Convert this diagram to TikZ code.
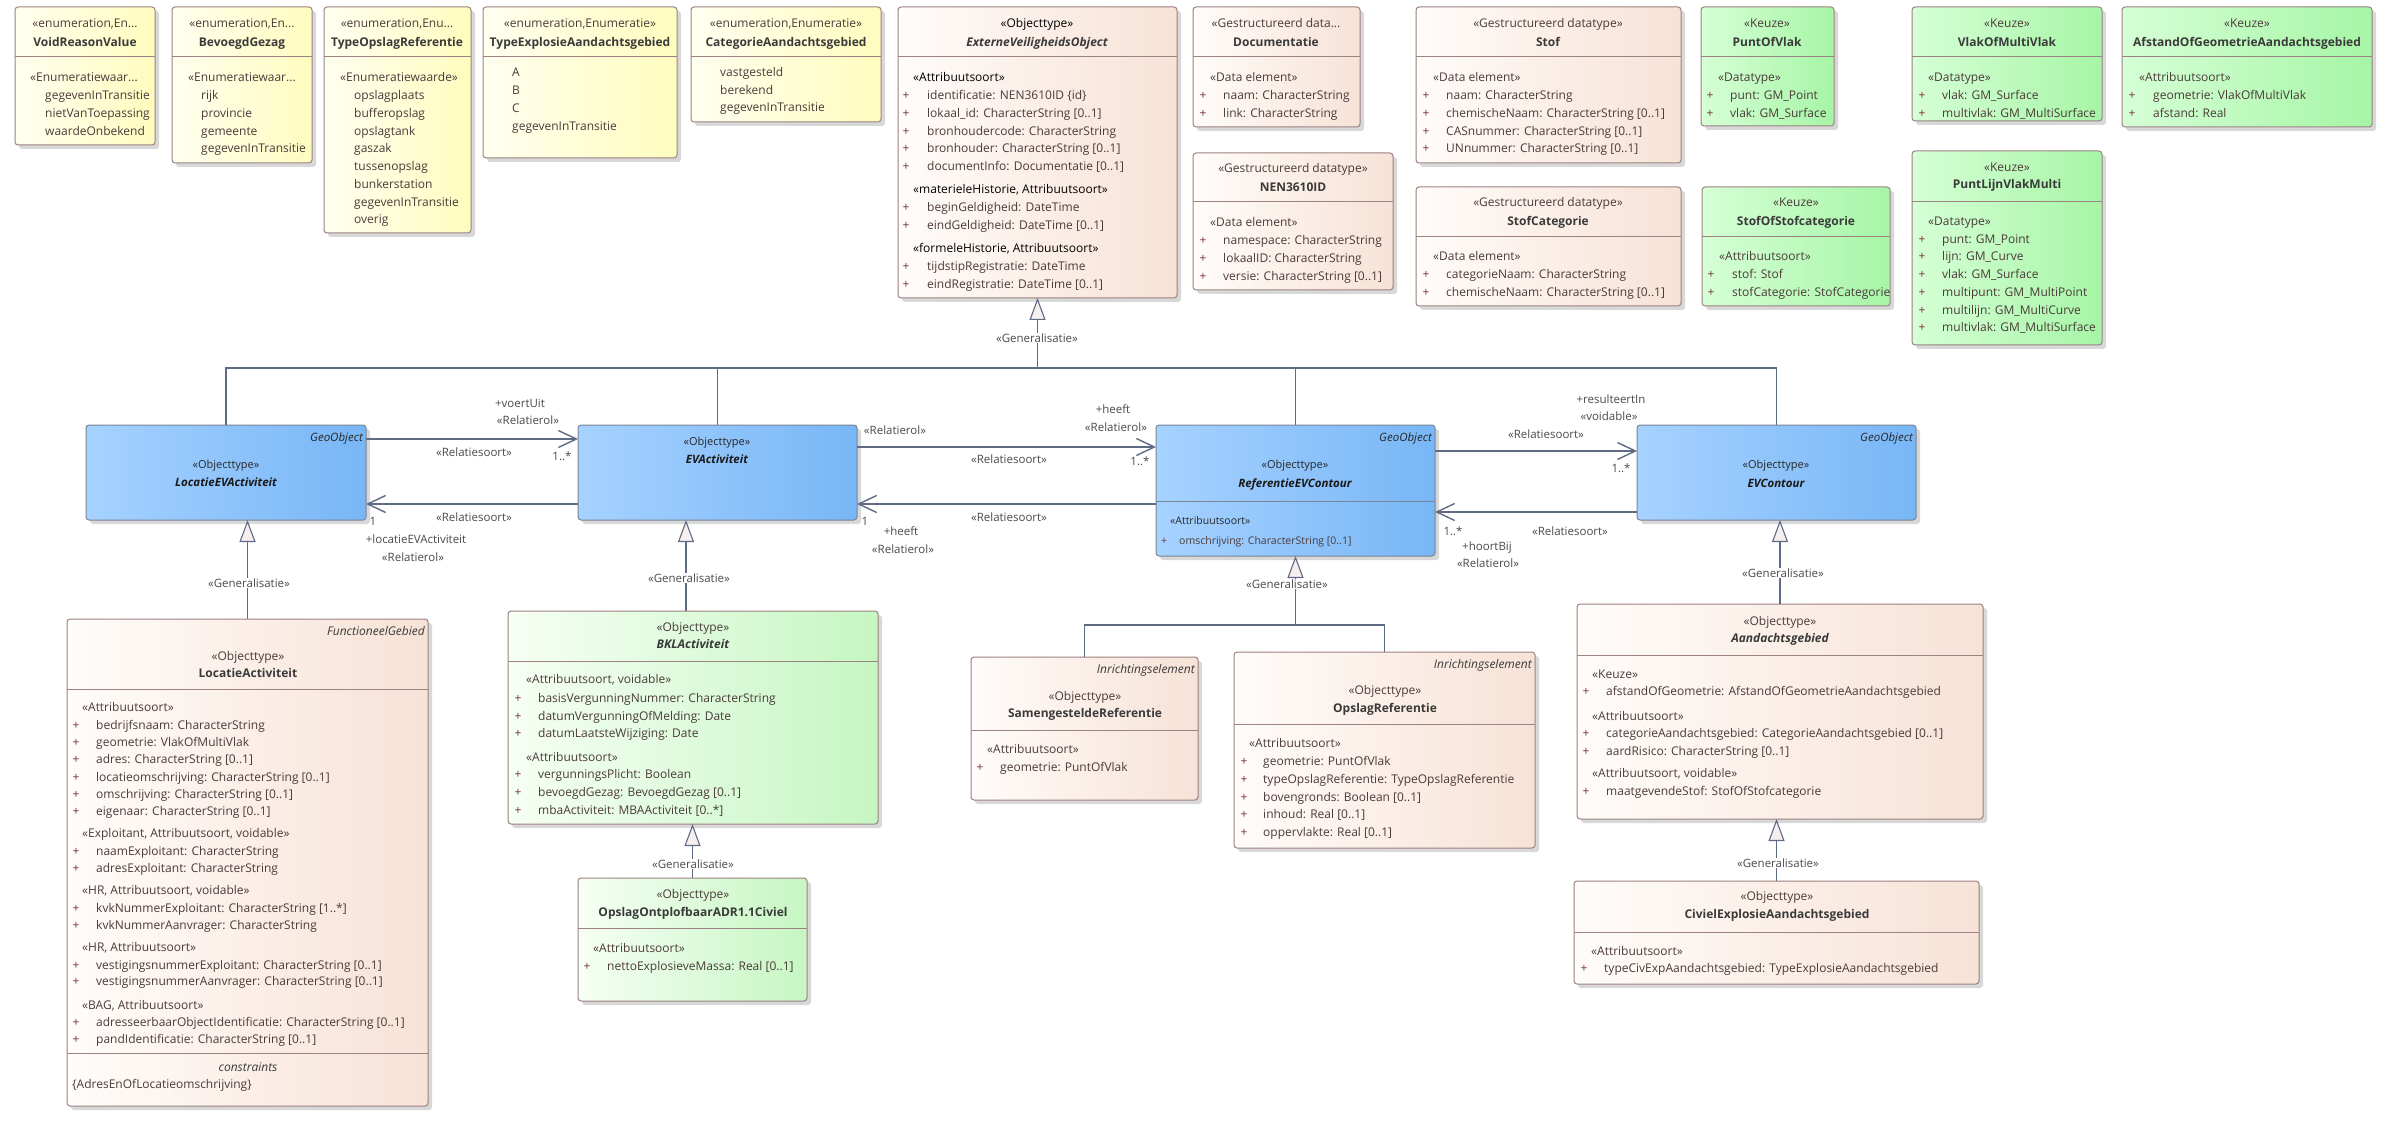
\documentclass[tikz,border=0pt]{standalone}
\usepackage{fontspec}
\setmainfont{Open Sans}
\usetikzlibrary{arrows.meta}
\definecolor{txtc}{HTML}{4B3A3A}
\definecolor{namec}{HTML}{3A3A3A}
\definecolor{plusc}{HTML}{7A2E3E}
\definecolor{lblc}{HTML}{4A4A4A}
\definecolor{connc}{HTML}{5F6B85}
\definecolor{brd}{HTML}{9C8282}
\definecolor{bbrd}{HTML}{7A8595}
\definecolor{shadowc}{HTML}{D8D8D8}
\definecolor{trif}{HTML}{F7EFEF}
\definecolor{yelL}{HTML}{FFFFF0}
\definecolor{yelR}{HTML}{FFFCBE}
\definecolor{beiL}{HTML}{FFFCFA}
\definecolor{beiR}{HTML}{F7E2D6}
\definecolor{keuL}{HTML}{D6FFD6}
\definecolor{keuR}{HTML}{A6F5A6}
\definecolor{lgrL}{HTML}{F6FFF4}
\definecolor{lgrR}{HTML}{C6F6C2}
\definecolor{bluL}{HTML}{A6D2FF}
\definecolor{bluR}{HTML}{78B6F6}
\tikzset{
  box/.style={draw=brd, line width=1pt, rounded corners=3pt, inner sep=0pt, outer sep=0pt},
  yel/.style={box, left color=yelL, right color=yelR},
  bei/.style={box, left color=beiL, right color=beiR},
  keu/.style={box, left color=keuL, right color=keuR},
  lgr/.style={box, left color=lgrL, right color=lgrR},
  blu/.style={box, draw=bbrd, left color=bluL, right color=bluR},
  divl/.style={draw=brd, line width=1pt},
  bdivl/.style={draw=bbrd, line width=1pt},
  tx/.style={font=\fontsize{12}{14}\selectfont, text=txtc, inner sep=0pt, text height=8.6pt, text depth=0.4pt},
  nm/.style={font=\fontsize{12}{14}\selectfont\bfseries, text=namec},
  nmi/.style={font=\fontsize{12}{14}\selectfont\bfseries\itshape, text=namec},
  itx/.style={font=\fontsize{12}{14}\selectfont\itshape, text=namec},
  btx/.style={font=\fontsize{10.5}{12}\selectfont, text=black!85, text height=7.6pt},
  bst/.style={font=\fontsize{11}{13}\selectfont, text=black!85, text height=8pt},
  bnmi/.style={font=\fontsize{11.5}{13}\selectfont\bfseries\itshape, text=black!90, text height=8.2pt},
  bitx/.style={font=\fontsize{11.5}{13}\selectfont\itshape, text=black!85, text height=8.2pt},
  lbl/.style={font=\fontsize{11.5}{13}\selectfont, text=lblc},
  wl/.style={lbl, fill=white, inner xsep=2pt, inner ysep=1pt},
  conn/.style={draw=connc, line width=1.1pt},
  gen/.style={conn, -{Triangle[length=22pt,width=16pt,fill=trif]}},
  assoc/.style={draw=connc, line width=1.4pt, -{Straight Barb[length=18pt,width=17pt]}},
}
\newcounter{nn}
\newcommand\uml[6]{%
  \fill[shadowc, rounded corners=3pt] ({#2+4},{#3+4}) rectangle ({#4+4},{#5+4});
  \node[#6, anchor=north west, minimum width={#4-#2}, minimum height={#5-#3}] (#1) at (#2,#3) {};}
\newcommand\hdv[4][divl]{\draw[#1] (#2,#4) -- (#3,#4);}
\newcommand\ctx[4][]{\stepcounter{nn}\node[tx,#1] (t\thenn) at (#2,#3) {#4};}
\newcommand\ltx[4][]{\stepcounter{nn}\node[tx,anchor=west,#1] (t\thenn) at (#2,#3) {#4};}
\newcommand\rtx[4][]{\stepcounter{nn}\node[tx,anchor=east,#1] (t\thenn) at (#2,#3) {#4};}
\newcommand\atr[4]{\stepcounter{nn}\node[tx,text=plusc] (t\thenn) at (#1,#3) {+};\ltx{#2}{#3}{#4}}
\begin{document}
\begin{tikzpicture}[x=1pt,y=-1pt]
\fill[white] (0,0) rectangle (2392,1139);
\useasboundingbox (0,0) rectangle (2392,1139);

% ---------------- boxes
\uml{vrv}{15}{7}{155}{145}{yel}
\uml{bg}{172}{7}{312}{163}{yel}
\uml{tor}{324}{7}{471}{233}{yel}
\uml{tea}{483}{7}{677}{158}{yel}
\uml{cag}{691}{7}{881}{122}{yel}
\uml{evo}{898}{7}{1177}{298}{bei}
\uml{doc}{1193}{7}{1360}{127}{bei}
\uml{nen}{1193}{153}{1393}{290}{bei}
\uml{stof}{1416}{7}{1681}{163}{bei}
\uml{stofcat}{1416}{187}{1681}{306}{bei}
\uml{pov}{1701}{7}{1834}{126}{keu}
\uml{sos}{1702}{187}{1890}{306}{keu}
\uml{vomv}{1912}{7}{2102}{121}{keu}
\uml{aog}{2122}{7}{2372}{127}{keu}
\uml{plvm}{1912}{151}{2102}{345}{keu}
\uml{locev}{86}{425}{366}{520}{blu}
\uml{evact}{578}{425}{857}{520}{blu}
\uml{ref}{1156}{425}{1435}{556}{blu}
\uml{evc}{1637}{425}{1916}{520}{blu}
\uml{la}{67}{619}{428}{1106}{bei}
\uml{bkl}{508}{611}{878}{824}{lgr}
\uml{opc}{578}{878}{807}{1001}{lgr}
\uml{sr}{971}{657}{1198}{800}{bei}
\uml{opref}{1234}{652}{1535}{848}{bei}
\uml{ag}{1577}{604}{1983}{819}{bei}
\uml{cea}{1574}{881}{1979}{984}{bei}

% ---------------- dividers
\hdv{15}{155}{57}
\hdv{172}{312}{57}
\hdv{324}{471}{57}
\hdv{483}{677}{57}
\hdv{691}{881}{57}
\hdv{898}{1177}{57}
\hdv{1193}{1360}{57}
\hdv{1193}{1393}{202}
\hdv{1416}{1681}{57}
\hdv{1416}{1681}{237}
\hdv{1701}{1834}{57}
\hdv{1702}{1890}{237}
\hdv{1912}{2102}{57}
\hdv{2122}{2372}{57}
\hdv{1912}{2102}{202}
\hdv[bdivl]{1156}{1435}{501}
\hdv{67}{428}{689}
\hdv{67}{428}{1053}
\hdv{508}{878}{661}
\hdv{578}{807}{928}
\hdv{971}{1198}{730}
\hdv{1234}{1535}{724}
\hdv{1577}{1983}{655}
\hdv{1574}{1979}{932}

% ---------------- enumerations
\ctx{85}{23}{«enumeration,En...}
\ctx[nm]{85}{42}{VoidReasonValue}
\ltx{30}{77}{«Enumeratiewaar...}
\ltx{45}{95}{gegevenInTransitie}
\ltx{45}{113}{nietVanToepassing}
\ltx{45}{131}{waardeOnbekend}

\ctx{242}{23}{«enumeration,En...}
\ctx[nm]{242}{42}{BevoegdGezag}
\ltx{188}{77}{«Enumeratiewaar...}
\ltx{201}{95}{rijk}
\ltx{201}{113}{provincie}
\ltx{201}{131}{gemeente}
\ltx{201}{148}{gegevenInTransitie}

\ctx{397}{23}{«enumeration,Enu...}
\ctx[nm]{397}{42}{TypeOpslagReferentie}
\ltx{340}{77}{«Enumeratiewaarde»}
\ltx{354}{95}{opslagplaats}
\ltx{354}{113}{bufferopslag}
\ltx{354}{131}{opslagtank}
\ltx{354}{148}{gaszak}
\ltx{354}{166}{tussenopslag}
\ltx{354}{184}{bunkerstation}
\ltx{354}{202}{gegevenInTransitie}
\ltx{354}{219}{overig}

\ctx{580}{23}{«enumeration,Enumeratie»}
\ctx[nm]{580}{42}{TypeExplosieAandachtsgebied}
\ltx{512}{72}{A}
\ltx{512}{90}{B}
\ltx{512}{108}{C}
\ltx{512}{126}{gegevenInTransitie}

\ctx{786}{23}{«enumeration,Enumeratie»}
\ctx[nm]{786}{42}{CategorieAandachtsgebied}
\ltx{720}{72}{vastgesteld}
\ltx{720}{90}{berekend}
\ltx{720}{107}{gegevenInTransitie}

% ---------------- ExterneVeiligheidsObject
\ctx[text=black]{1037}{23}{«Objecttype»}
\ctx[nmi]{1037}{42}{ExterneVeiligheidsObject}
\ltx[text=black]{913}{77}{«Attribuutsoort»}
\atr{906}{927}{95}{identificatie: NEN3610ID \{id\}}
\atr{906}{927}{113}{lokaal\_id: CharacterString [0..1]}
\atr{906}{927}{131}{bronhoudercode: CharacterString}
\atr{906}{927}{148}{bronhouder: CharacterString [0..1]}
\atr{906}{927}{166}{documentInfo: Documentatie [0..1]}
\ltx[text=black]{913}{189}{«materieleHistorie, Attribuutsoort»}
\atr{906}{927}{207}{beginGeldigheid: DateTime}
\atr{906}{927}{225}{eindGeldigheid: DateTime [0..1]}
\ltx[text=black]{913}{248}{«formeleHistorie, Attribuutsoort»}
\atr{906}{927}{266}{tijdstipRegistratie: DateTime}
\atr{906}{927}{284}{eindRegistratie: DateTime [0..1]}

% ---------------- Documentatie, NEN3610ID
\ctx{1276}{23}{«Gestructureerd data...}
\ctx[nm]{1276}{42}{Documentatie}
\ltx{1210}{77}{«Data element»}
\atr{1203}{1223}{95}{naam: CharacterString}
\atr{1203}{1223}{113}{link: CharacterString}

\ctx{1293}{168}{«Gestructureerd datatype»}
\ctx[nm]{1293}{187}{NEN3610ID}
\ltx{1210}{222}{«Data element»}
\atr{1203}{1223}{240}{namespace: CharacterString}
\atr{1203}{1223}{258}{lokaalID: CharacterString}
\atr{1203}{1223}{276}{versie: CharacterString [0..1]}

% ---------------- Stof, StofCategorie
\ctx{1548}{23}{«Gestructureerd datatype»}
\ctx[nm]{1548}{42}{Stof}
\ltx{1433}{77}{«Data element»}
\atr{1426}{1446}{95}{naam: CharacterString}
\atr{1426}{1446}{113}{chemischeNaam: CharacterString [0..1]}
\atr{1426}{1446}{131}{CASnummer: CharacterString [0..1]}
\atr{1426}{1446}{148}{UNnummer: CharacterString [0..1]}

\ctx{1548}{202}{«Gestructureerd datatype»}
\ctx[nm]{1548}{221}{StofCategorie}
\ltx{1433}{256}{«Data element»}
\atr{1426}{1446}{274}{categorieNaam: CharacterString}
\atr{1426}{1446}{292}{chemischeNaam: CharacterString [0..1]}

% ---------------- Keuze boxes
\ctx{1767}{23}{«Keuze»}
\ctx[nm]{1767}{42}{PuntOfVlak}
\ltx{1718}{77}{«Datatype»}
\atr{1710}{1730}{95}{punt: GM\_Point}
\atr{1710}{1730}{113}{vlak: GM\_Surface}

\ctx{1796}{202}{«Keuze»}
\ctx[nm]{1796}{221}{StofOfStofcategorie}
\ltx{1719}{256}{«Attribuutsoort»}
\atr{1711}{1732}{274}{stof: Stof}
\atr{1711}{1732}{292}{stofCategorie: StofCategorie}

\ctx{2007}{23}{«Keuze»}
\ctx[nm]{2007}{42}{VlakOfMultiVlak}
\ltx{1928}{77}{«Datatype»}
\atr{1922}{1942}{95}{vlak: GM\_Surface}
\atr{1922}{1942}{113}{multivlak: GM\_MultiSurface}

\ctx{2247}{23}{«Keuze»}
\ctx[nm]{2247}{42}{AfstandOfGeometrieAandachtsgebied}
\ltx{2139}{77}{«Attribuutsoort»}
\atr{2132}{2153}{95}{geometrie: VlakOfMultiVlak}
\atr{2132}{2153}{113}{afstand: Real}

\ctx{2007}{167}{«Keuze»}
\ctx[nm]{2007}{184}{PuntLijnVlakMulti}
\ltx{1928}{221}{«Datatype»}
\atr{1922}{1942}{239}{punt: GM\_Point}
\atr{1922}{1942}{256}{lijn: GM\_Curve}
\atr{1922}{1942}{274}{vlak: GM\_Surface}
\atr{1922}{1942}{292}{multipunt: GM\_MultiPoint}
\atr{1922}{1942}{310}{multilijn: GM\_MultiCurve}
\atr{1922}{1942}{327}{multivlak: GM\_MultiSurface}

% ---------------- blue boxes
\rtx[bitx]{363}{438}{GeoObject}
\ctx[bst]{226}{465}{«Objecttype»}
\ctx[bnmi]{226}{483}{LocatieEVActiviteit}

\ctx[bst]{717}{442}{«Objecttype»}
\ctx[bnmi]{717}{460}{EVActiviteit}

\rtx[bitx]{1432}{438}{GeoObject}
\ctx[bst]{1295}{465}{«Objecttype»}
\ctx[bnmi]{1295}{484}{ReferentieEVContour}
\ltx[btx]{1170}{521}{«Attribuutsoort»}
\stepcounter{nn}\node[tx,btx,text=plusc] (t\thenn) at (1164,541) {+};
\ltx[btx,text=txtc]{1179}{541}{omschrijving: CharacterString [0..1]}

\rtx[bitx]{1913}{438}{GeoObject}
\ctx[bst]{1776}{465}{«Objecttype»}
\ctx[bnmi]{1776}{484}{EVContour}

% ---------------- LocatieActiviteit
\rtx[itx]{425}{631}{FunctioneelGebied}
\ctx{248}{656}{«Objecttype»}
\ctx[nm]{248}{673}{LocatieActiviteit}
\ltx{82}{707}{«Attribuutsoort»}
\atr{76}{96}{725}{bedrijfsnaam: CharacterString}
\atr{76}{96}{742}{geometrie: VlakOfMultiVlak}
\atr{76}{96}{759}{adres: CharacterString [0..1]}
\atr{76}{96}{777}{locatieomschrijving: CharacterString [0..1]}
\atr{76}{96}{794}{omschrijving: CharacterString [0..1]}
\atr{76}{96}{811}{eigenaar: CharacterString [0..1]}
\ltx{82}{833}{«Exploitant, Attribuutsoort, voidable»}
\atr{76}{96}{851}{naamExploitant: CharacterString}
\atr{76}{96}{868}{adresExploitant: CharacterString}
\ltx{82}{890}{«HR, Attribuutsoort, voidable»}
\atr{76}{96}{908}{kvkNummerExploitant: CharacterString [1..*]}
\atr{76}{96}{925}{kvkNummerAanvrager: CharacterString}
\ltx{82}{947}{«HR, Attribuutsoort»}
\atr{76}{96}{965}{vestigingsnummerExploitant: CharacterString [0..1]}
\atr{76}{96}{981}{vestigingsnummerAanvrager: CharacterString [0..1]}
\ltx{82}{1005}{«BAG, Attribuutsoort»}
\atr{76}{96}{1022}{adresseerbaarObjectIdentificatie: CharacterString [0..1]}
\atr{76}{96}{1039}{pandIdentificatie: CharacterString [0..1]}
\ctx[itx]{248}{1067}{constraints}
\ltx{72}{1084}{\{AdresEnOfLocatieomschrijving\}}

% ---------------- BKLActiviteit, Opslag...
\ctx{693}{627}{«Objecttype»}
\ctx[nmi]{693}{644}{BKLActiviteit}
\ltx{526}{679}{«Attribuutsoort, voidable»}
\atr{518}{538}{698}{basisVergunningNummer: CharacterString}
\atr{518}{538}{716}{datumVergunningOfMelding: Date}
\atr{518}{538}{733}{datumLaatsteWijziging: Date}
\ltx{526}{757}{«Attribuutsoort»}
\atr{518}{538}{774}{vergunningsPlicht: Boolean}
\atr{518}{538}{792}{bevoegdGezag: BevoegdGezag [0..1]}
\atr{518}{538}{810}{mbaActiviteit: MBAActiviteit [0..*]}

\ctx{693}{894}{«Objecttype»}
\ctx[nm]{693}{912}{OpslagOntplofbaarADR1.1Civiel}
\ltx{593}{948}{«Attribuutsoort»}
\atr{587}{607}{966}{nettoExplosieveMassa: Real [0..1]}

% ---------------- Samengestelde / Opslag referentie
\rtx[itx]{1195}{669}{Inrichtingselement}
\ctx{1085}{696}{«Objecttype»}
\ctx[nm]{1085}{713}{SamengesteldeReferentie}
\ltx{987}{749}{«Attribuutsoort»}
\atr{980}{1000}{767}{geometrie: PuntOfVlak}

\rtx[itx]{1532}{664}{Inrichtingselement}
\ctx{1385}{690}{«Objecttype»}
\ctx[nm]{1385}{708}{OpslagReferentie}
\ltx{1249}{743}{«Attribuutsoort»}
\atr{1244}{1263}{761}{geometrie: PuntOfVlak}
\atr{1244}{1263}{779}{typeOpslagReferentie: TypeOpslagReferentie}
\atr{1244}{1263}{797}{bovengronds: Boolean [0..1]}
\atr{1244}{1263}{814}{inhoud: Real [0..1]}
\atr{1244}{1263}{832}{oppervlakte: Real [0..1]}

% ---------------- Aandachtsgebied, CivielExplosie...
\ctx{1780}{621}{«Objecttype»}
\ctx[nmi]{1780}{638}{Aandachtsgebied}
\ltx{1592}{674}{«Keuze»}
\atr{1586}{1606}{691}{afstandOfGeometrie: AfstandOfGeometrieAandachtsgebied}
\ltx{1592}{716}{«Attribuutsoort»}
\atr{1586}{1606}{733}{categorieAandachtsgebied: CategorieAandachtsgebied [0..1]}
\atr{1586}{1606}{751}{aardRisico: CharacterString [0..1]}
\ltx{1592}{773}{«Attribuutsoort, voidable»}
\atr{1586}{1606}{791}{maatgevendeStof: StofOfStofcategorie}

\ctx{1777}{896}{«Objecttype»}
\ctx[nm]{1777}{914}{CivielExplosieAandachtsgebied}
\ltx{1591}{951}{«Attribuutsoort»}
\atr{1584}{1604}{968}{typeCivExpAandachtsgebied: TypeExplosieAandachtsgebied}

% ---------------- generalisations
\path (evo.south) ++(0,70) coordinate (eb);
\draw[conn] (locev.north) |- (eb) -| (evc.north);
\draw[conn] (evact.north) -- (evact.north |- eb);
\draw[conn] (ref.north) -- (ref.north |- eb);
\draw[gen] (eb) -- (evo.south);

\draw[gen] (la.north) -- (la.north |- locev.south);
\path (bkl.north) ++(-7,0) coordinate (g2);
\draw[gen] (g2) -- (g2 |- evact.south);
\draw[gen] (opc.north) -- (opc.north |- bkl.south);
\path (ref.south) ++(0,69) coordinate (rb);
\draw[conn] (sr.north) |- (rb) -| (opref.north);
\draw[gen] (rb) -- (ref.south);
\draw[gen] (ag.north) -- (ag.north |- evc.south);
\draw[gen] (cea.north) -- (cea.north |- ag.south);

\node[wl] (g1) at (1037,338) {«Generalisatie»};
\node[wl] (gl1) at (249,583) {«Generalisatie»};
\node[wl] (gl2) at (689,578) {«Generalisatie»};
\node[wl] (gl3) at (1287,584) {«Generalisatie»};
\node[wl] (gl4) at (1783,573) {«Generalisatie»};
\node[wl] (gl5) at (693,864) {«Generalisatie»};
\node[wl] (gl6) at (1778,863) {«Generalisatie»};

% ---------------- associations
\path (locev.north east) ++(0,14) coordinate (a1);
\draw[assoc] (a1) -- (a1 -| evact.west);
\path (evact.south west) ++(0,-16) coordinate (a2);
\draw[assoc] (a2) -- (a2 -| locev.east);
\path (evact.north east) ++(0,22) coordinate (a3);
\draw[assoc] (a3) -- (a3 -| ref.west);
\path (ref.north west) ++(0,79) coordinate (a4);
\draw[assoc] (a4) -- (a4 -| evact.east);
\path (ref.north east) ++(0,26) coordinate (a5);
\draw[assoc] (a5) -- (a5 -| evc.west);
\path (evc.north west) ++(0,87) coordinate (a6);
\draw[assoc] (a6) -- (a6 -| ref.east);

\ctx[lbl]{520}{403}{+voertUit}
\ctx[lbl]{528}{420}{«Relatierol»}
\ctx[lbl]{474}{452}{«Relatiesoort»}
\ctx[lbl]{562}{456}{1..*}
\ctx[lbl]{474}{517}{«Relatiesoort»}
\ctx[lbl]{373}{521}{1}
\ctx[lbl]{416}{539}{+locatieEVActiviteit}
\ctx[lbl]{413}{557}{«Relatierol»}

\ctx[lbl]{895}{430}{«Relatierol»}
\ctx[lbl]{1113}{409}{+heeft}
\ctx[lbl]{1116}{427}{«Relatierol»}
\ctx[lbl]{1009}{459}{«Relatiesoort»}
\ctx[lbl]{1140}{461}{1..*}
\ctx[lbl]{1009}{517}{«Relatiesoort»}
\ctx[lbl]{865}{521}{1}
\ctx[lbl]{901}{531}{+heeft}
\ctx[lbl]{903}{549}{«Relatierol»}

\ctx[lbl]{1611}{399}{+resulteertIn}
\ctx[lbl]{1609}{416}{«voidable»}
\ctx[lbl]{1546}{434}{«Relatiesoort»}
\ctx[lbl]{1621}{468}{1..*}
\ctx[lbl]{1453}{531}{1..*}
\ctx[lbl]{1570}{531}{«Relatiesoort»}
\ctx[lbl]{1487}{546}{+hoortBij}
\ctx[lbl]{1488}{563}{«Relatierol»}
\end{tikzpicture}
\end{document}
